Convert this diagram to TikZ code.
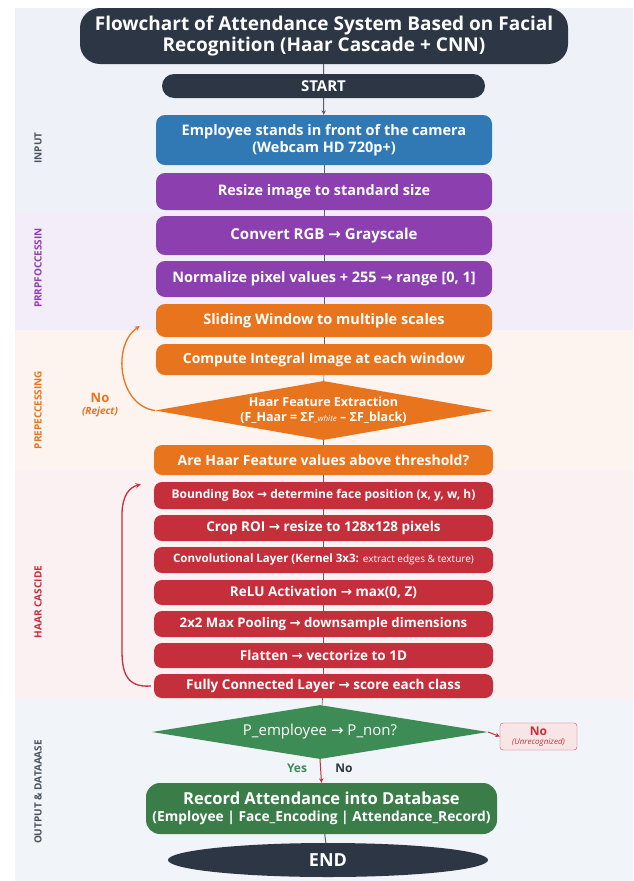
\documentclass[tikz,border=0pt]{standalone}
\usepackage{fontspec}
\setmainfont{Open Sans}
\newfontfamily\symfont{DejaVu Sans}
\usetikzlibrary{shapes.geometric, arrows.meta}

\definecolor{navy}{HTML}{2C3645}
\definecolor{blueC}{HTML}{3079B5}
\definecolor{purpC}{HTML}{8C3FAE}
\definecolor{orngC}{HTML}{E8741E}
\definecolor{redC}{HTML}{C52F3B}
\definecolor{grnC}{HTML}{3D8B55}
\definecolor{grnD}{HTML}{3B7D49}
\definecolor{bgIn}{HTML}{EEF2F8}
\definecolor{bgPre}{HTML}{F2EDF9}
\definecolor{bgHaar}{HTML}{FDF3EF}
\definecolor{bgCnn}{HTML}{FBF1F2}
\definecolor{bgOut}{HTML}{F1F4F8}

\newcommand{\rarr}{{\symfont →}}
\newcommand{\fs}[1]{\fontsize{#1}{1.2\dimexpr#1pt\relax}\selectfont}

\begin{document}
\begin{tikzpicture}[x=1pt, y=-1pt, >=stealth,
  box/.style={rounded corners=9pt, text=white, font=\bfseries\fs{14}, minimum width=336pt, align=center, inner sep=0pt},
  dia/.style={diamond, text=white, align=center, inner sep=0pt, shape aspect=5.7},
  side/.style={rotate=90, font=\bfseries\fs{10}},
  link/.style={draw=navy!80, line width=0.6pt}]
  \useasboundingbox (0,0) rectangle (633,881);
  \fill[white] (0,0) rectangle (633,881);
  % background bands
  \fill[bgIn] (15,8) rectangle (633,212);
  \fill[bgPre] (15,212) rectangle (633,330);
  \fill[bgHaar] (15,330) rectangle (633,470);
  \fill[bgCnn] (15,470) rectangle (633,700);
  \fill[bgOut] (15,700) rectangle (633,881);

  \node[side, text=navy!85] (lin) at (38,148) {INPUT};
  \node[side, text=purpC] (lpre) at (38,268) {PRRPFOCCESSIN};
  \node[side, text=orngC] (lhaar) at (38,410) {PREPECCESSING};
  \node[side, text=redC] (lcnn) at (38,602) {HAAR CASCIDE};
  \node[side, text=navy!85] (lout) at (38,792) {OUTPUT \& DATAAASE};

  % title and start
  \node[box, fill=navy, minimum width=488pt, minimum height=56pt, rounded corners=20pt, font=\bfseries\fontsize{19}{21}\selectfont] (title) at (324,36) {Flowchart of Attendance System Based on Facial\\Recognition (Haar Cascade + CNN)};
  \node[box, fill=navy, minimum width=323pt, minimum height=24pt, rounded corners=12pt, font=\bfseries\fs{15}] (start) at (323.5,86) {START};

  % input and preprocessing
  \node[box, fill=blueC, minimum height=50pt, font=\bfseries\fs{14.5}] (cam) at (324,140) {Employee stands in front of the camera\\(Webcam HD 720p+)};
  \node[box, fill=purpC, minimum height=37pt, font=\bfseries\fs{14.5}] (resize) at (324,191.5) {Resize image to standard size};
  \node[box, fill=purpC, minimum height=39pt, font=\bfseries\fs{15}] (gray) at (324,235.5) {Convert RGB \rarr{} Grayscale};
  \node[box, fill=purpC, minimum height=36pt, font=\bfseries\fs{14.5}] (norm) at (324,279) {Normalize pixel values + 255 \rarr{} range [0, 1]};
  \node[box, fill=orngC, minimum height=33pt, font=\bfseries\fs{14.5}] (slide) at (324,320.5) {Sliding Window to multiple scales};
  \node[box, fill=orngC, minimum height=31pt, font=\bfseries\fs{14}] (integ) at (324,359.5) {Compute Integral Image at each window};
  \node[dia, fill=orngC, minimum width=337pt, minimum height=59pt, font=\bfseries\fs{12.5}] (haar) at (323.5,410.5) {Haar Feature Extraction\\(F\_Haar = ΣF{\mdseries\itshape\fs{8}\_white} – ΣF\_black)};
  \node[box, fill=orngC, minimum width=339pt, minimum height=30pt, rounded corners=8pt, font=\bfseries\fs{14}] (thr) at (323.5,460) {Are Haar Feature values above threshold?};

  % cnn
  \node[box, fill=redC, minimum width=339pt, minimum height=27pt, rounded corners=8pt, font=\bfseries\fs{12}] (bbox) at (323.5,495.5) {Bounding Box \rarr{} determine face position (x, y, w, h)};
  \node[box, fill=redC, minimum width=339pt, minimum height=26pt, rounded corners=8pt, font=\bfseries\fs{13.5}] (crop) at (323.5,528) {Crop ROI \rarr{} resize to 128x128 pixels};
  \node[box, fill=redC, minimum width=339pt, minimum height=26pt, rounded corners=8pt, font=\bfseries\fs{11.5}] (conv) at (323.5,560) {Convolutional Layer (Kernel 3x3: {\mdseries\fs{10}extract edges \& texture)}};
  \node[box, fill=redC, minimum width=339pt, minimum height=25pt, rounded corners=8pt, font=\bfseries\fs{13.5}] (relu) at (323.5,592.5) {ReLU Activation \rarr{} max(0, Z)};
  \node[box, fill=redC, minimum width=339pt, minimum height=26pt, rounded corners=8pt, font=\bfseries\fs{13.2}] (pool) at (323.5,624) {2x2 Max Pooling \rarr{} downsample dimensions};
  \node[box, fill=redC, minimum width=339pt, minimum height=25pt, rounded corners=8pt, font=\bfseries\fs{13.5}] (flat) at (323.5,655.5) {Flatten \rarr{} vectorize to 1D};
  \node[box, fill=redC, minimum width=339pt, minimum height=24pt, rounded corners=8pt, font=\bfseries\fs{13.5}] (fc) at (323.5,686) {Fully Connected Layer \rarr{} score each class};

  % output
  \node[dia, fill=grnC, minimum width=336pt, minimum height=54pt, font=\fs{15}] (emp) at (320,732) {P\_employee \rarr{} P\_non?};
  \node[draw=redC!85, fill=redC!12, rounded corners=3pt, minimum width=77pt, minimum height=27pt, inner sep=0pt, align=center, text=redC] (nobox) at (538.5,736.5) {{\bfseries\fs{12}No}\\[-3pt]{\itshape\fs{8}(Unrecognized)}};
  \node[box, fill=grnD, minimum width=351pt, minimum height=51pt, rounded corners=14pt, font=\bfseries\fs{13.8}] (rec) at (321.5,808.5) {\fs{16.5}Record Attendance into Database\\(Employee | Face\_Encoding | Attendance\_Record)};
  \node[ellipse, fill=navy, text=white, minimum width=320pt, minimum height=34pt, inner sep=0pt, font=\bfseries\fs{18}] (end) at (328,860) {END};

  \node[text=grnC, font=\bfseries\fs{12}] (yes) at (297,768) {Yes};
  \node[text=navy, font=\bfseries\fs{12}] (no) at (344,768) {No};
  \node[text=orngC, font=\bfseries\fs{13}] (rej) at (100,398) {No};
  \node[text=orngC, font=\itshape\bfseries\fs{10}, below=-3pt] at (rej.south) {(Reject)};

  % connectors
  \draw[link, line width=1pt] (title) -- (start);
  \draw[link, line width=1pt, ->] (start) -- (cam);
  \foreach \a/\b in {cam/resize, resize/gray, gray/norm, norm/slide, slide/integ, integ/haar, haar/thr, thr/bbox, bbox/crop, crop/conv, conv/relu, relu/pool, pool/flat, flat/fc, fc/emp}
    \draw[link] (\a) -- (\b);
  \draw[link, line width=1pt] (rec) -- (end);
  \draw[->, redC, line width=1pt] (emp.south) -- (rec.north);
  \draw[->, redC, line width=1pt] (emp.east) -- (nobox.west);

  % loops
  \draw[->, orngC, line width=1.3pt] (haar.west) .. controls (118,405) and (112,345) .. ([xshift=-16pt, yshift=-5.5pt]slide.west);
  \draw[->, redC, line width=1.3pt] ([xshift=-3pt]fc.west) .. controls (125,688) and (122,670) .. (122,650) -- (122,515) .. controls (122,495) and (130,487) .. ([xshift=-13pt, yshift=11pt]bbox.west);
\end{tikzpicture}
\end{document}
